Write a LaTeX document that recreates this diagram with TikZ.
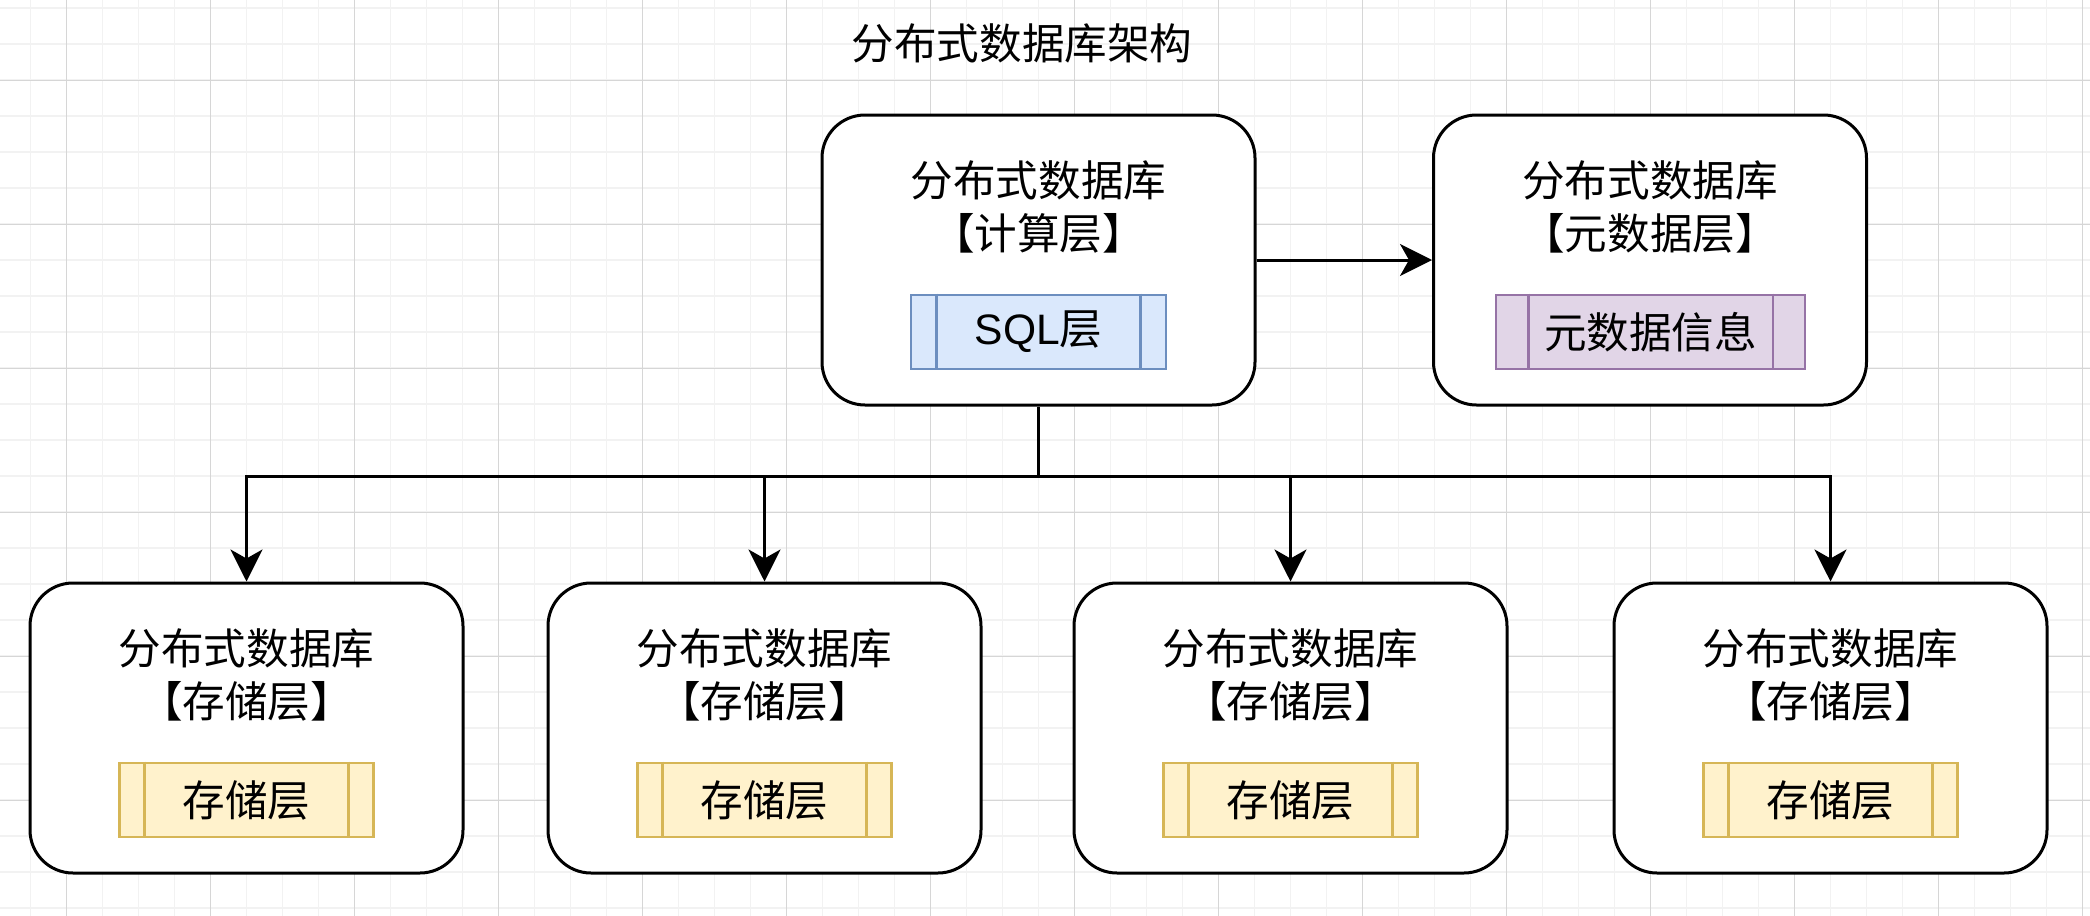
\documentclass[tikz,border=0pt]{standalone}
\usepackage{fontspec}
\setmainfont{Noto Sans CJK SC}
\newfontfamily\lat{Liberation Sans}
\usetikzlibrary{arrows.meta}
\definecolor{gridminor}{HTML}{F2F2F2}
\definecolor{gridmajor}{HTML}{D6D6D6}
\definecolor{bluefill}{HTML}{DAE8FC}
\definecolor{blueline}{HTML}{6C8EBF}
\definecolor{purplefill}{HTML}{E1D5E7}
\definecolor{purpleline}{HTML}{9673A6}
\definecolor{yellowfill}{HTML}{FFF2CC}
\definecolor{yellowline}{HTML}{D6B656}
\begin{document}
\begin{tikzpicture}[x=0.5pt,y=-0.5pt,
  txt/.style={font=\fontsize{21.3pt}{26.5pt}\selectfont, align=center, inner sep=0pt},
  bigbox/.style={draw, line width=1.5pt, fill=white, rounded corners=21.5pt,
    minimum width=216.5pt, minimum height=145pt, inner sep=0pt},
  procbox/.style 2 args={draw=#1, fill=#2, line width=1.4pt, minimum height=37pt,
    inner sep=0pt, font=\fontsize{21.3pt}{26.5pt}\selectfont},
  conn/.style={line width=1.5pt, -{Stealth[length=16pt,width=16pt,inset=4.5pt]}},
  plain/.style={line width=1.5pt}
]
\useasboundingbox (0,0) rectangle (2090,916);
\fill[white] (0,0) rectangle (2090,916);
% grid
\foreach \i in {0,...,57} \draw[gridminor, line width=0.65pt] ({30.7+36*\i},0) -- ({30.7+36*\i},916);
\foreach \i in {0,...,25} \draw[gridminor, line width=0.65pt] (0,{8+36*\i}) -- (2090,{8+36*\i});
\foreach \i in {0,...,14} \draw[gridmajor, line width=0.5pt] ({66.7+144*\i},0) -- ({66.7+144*\i},916);
\foreach \i in {0,...,5} \draw[gridmajor, line width=0.5pt] (0,{80+144*\i}) -- (2090,{80+144*\i});

% title
\node[txt] (title) at (1022,43) {分布式数据库架构};

% top boxes
\node[bigbox] (main) at (1038.5,260) {};
\node[txt] (mainlbl) at (1038.5,206.5) {分布式数据库\\【计算层】};
\node[procbox={blueline}{bluefill}, minimum width=127.5pt] (sql) at (1038.5,332) {{\lat SQL}层};

\node[bigbox] (meta) at (1650,260) {};
\node[txt] (metalbl) at (1650,206.5) {分布式数据库\\【元数据层】};
\node[procbox={purpleline}{purplefill}, minimum width=154.5pt] (metap) at (1650.5,332) {元数据信息};

% bottom boxes
\foreach \k/\x in {1/246.5, 2/764.5, 3/1290.5, 4/1830.5} {
  \node[bigbox] (s\k) at (\x,728) {};
  \node[txt] (s\k lbl) at (\x,675) {分布式数据库\\【存储层】};
  \node[procbox={yellowline}{yellowfill}, minimum width=127pt] (p\k) at (\x,800) {存储层};
}

% inner lines of process boxes
\foreach \n/\o/\c in {sql/13.5/blueline, metap/16.75/purpleline, p1/13.25/yellowline, p2/13.25/yellowline, p3/13.25/yellowline, p4/13.25/yellowline} {
  \draw[\c, line width=1.4pt] ([xshift=\o pt]\n.north west) -- ([xshift=\o pt]\n.south west);
  \draw[\c, line width=1.4pt] ([xshift=-\o pt]\n.north east) -- ([xshift=-\o pt]\n.south east);
}

% connectors
\draw[conn] (main.east) -- (meta.west);
\coordinate (bus) at (1038.5,476);
\draw[plain] (main.south) -- (bus);
\foreach \k in {1,2,3,4} \draw[conn] (bus) -| (s\k.north);
\end{tikzpicture}
\end{document}
